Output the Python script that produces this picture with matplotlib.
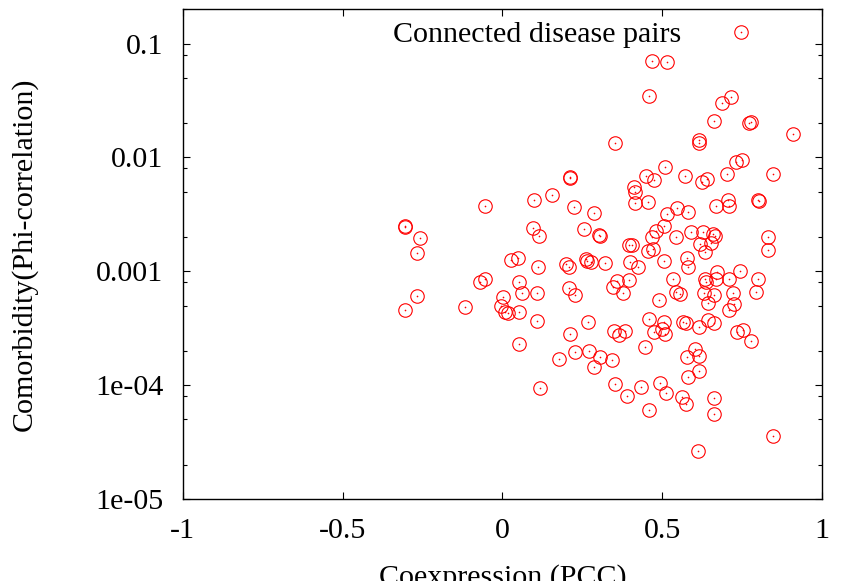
import numpy as np
import matplotlib
matplotlib.use('Agg')
import matplotlib.pyplot as plt
from matplotlib.ticker import LogLocator, FixedLocator, NullFormatter
from matplotlib.legend_handler import HandlerTuple

plt.rcParams['font.family'] = ['Liberation Serif', 'DejaVu Serif']
plt.rcParams['font.size'] = 21.6

# coexpression (PCC) of each connected disease pair
pcc = [0.467, 0.515, 0.460, 0.352, 0.509, 0.716, 0.688, 0.663, 0.772, 0.778, 0.909, 0.615, 0.615, 0.730, 0.751,
       -0.054, 0.100, -0.306, -0.303, -0.259, -0.268, 0.095, 0.115, 0.027, 0.050, 0.112, -0.070, -0.054, 0.052,
       0.062, 0.107, -0.268, 0.001, -0.305, -0.117, -0.004, 0.008, 0.019, 0.052, 0.108, 0.053, 0.118,
       0.211, 0.212, 0.449, 0.474, 0.156, 0.413, 0.415, 0.415, 0.457, 0.224, 0.287, 0.256, 0.302, 0.304, 0.507,
       0.481, 0.469, 0.396, 0.405, 0.455, 0.472, 0.261, 0.266, 0.277, 0.198, 0.209, 0.321, 0.399, 0.425, 0.506,
       0.358, 0.347, 0.396, 0.378, 0.209, 0.227, 0.490,
       0.571, 0.626, 0.641, 0.704, 0.848, 0.800, 0.802, 0.668, 0.707, 0.709, 0.514, 0.547, 0.582, 0.542, 0.590,
       0.629, 0.660, 0.665, 0.618, 0.653, 0.634, 0.830, 0.832, 0.577, 0.582, 0.535, 0.671, 0.743, 0.634, 0.637,
       0.667, 0.709, 0.801, 0.542, 0.556, 0.632, 0.663, 0.723, 0.793, 0.726, 0.642, 0.709,
       0.269, 0.459, 0.507, 0.212, 0.349, 0.365, 0.384, 0.474, 0.499, 0.509, 0.446, 0.177, 0.227, 0.272, 0.305,
       0.342, 0.287, 0.352, 0.389, 0.434, 0.494, 0.512, 0.459,
       0.566, 0.574, 0.615, 0.644, 0.662, 0.733, 0.752, 0.778, 0.603, 0.577, 0.615, 0.615, 0.582, 0.561, 0.574,
       0.662, 0.662, 0.848, 0.613]

# comorbidity (phi-correlation)
phi = [0.070, 0.0686, 0.0345, 0.0134, 0.00822, 0.0340, 0.0299, 0.0211, 0.0200, 0.0204, 0.0160, 0.0142, 0.0133,
       0.00914, 0.00946,
       0.00374, 0.00420, 0.00249, 0.00245, 0.00195, 0.00144, 0.00238, 0.00206, 0.00126, 0.00131, 0.00110, 8.02e-4,
       8.55e-4, 8.06e-4, 6.46e-4, 6.41e-4, 6.07e-4, 5.92e-4, 4.55e-4, 4.86e-4, 4.93e-4, 4.40e-4, 4.29e-4, 4.37e-4,
       3.66e-4, 2.30e-4, 9.42e-5,
       0.00680, 0.00665, 0.00685, 0.00632, 0.00470, 0.00552, 0.00493, 0.00400, 0.00406, 0.00366, 0.00327, 0.00237,
       0.00210, 0.00206, 0.00249, 0.00226, 0.00199, 0.00169, 0.00170, 0.00152, 0.00157, 0.00128, 0.00123, 0.00121,
       0.00115, 0.00110, 0.00118, 0.00121, 0.00110, 0.00123, 8.22e-4, 7.33e-4, 8.39e-4, 6.41e-4, 7.10e-4, 6.19e-4,
       5.60e-4,
       0.00690, 0.00604, 0.00646, 0.00714, 0.00714, 0.00420, 0.00412, 0.00376, 0.00422, 0.00374, 0.00316, 0.00357,
       0.00330, 0.00201, 0.00222, 0.00222, 0.00211, 0.00204, 0.00173, 0.00176, 0.00149, 0.00201, 0.00153, 0.00132,
       0.00110, 8.55e-4, 9.9e-4, 1.007e-3, 8.55e-4, 8.11e-4, 8.55e-4, 8.55e-4, 8.55e-4, 6.55e-4, 6.32e-4, 6.41e-4,
       6.19e-4, 6.49e-4, 6.55e-4, 5.16e-4, 5.31e-4, 4.58e-4,
       3.57e-4, 3.82e-4, 3.57e-4, 2.82e-4, 3.01e-4, 2.76e-4, 3.01e-4, 2.92e-4, 3.12e-4, 2.82e-4, 2.15e-4, 1.70e-4,
       1.95e-4, 2.01e-4, 1.78e-4, 1.67e-4, 1.44e-4, 1.02e-4, 8.05e-5, 9.72e-5, 1.04e-4, 8.51e-5, 6.11e-5,
       3.61e-4, 3.50e-4, 3.27e-4, 3.74e-4, 3.50e-4, 2.92e-4, 3.05e-4, 2.46e-4, 2.07e-4, 1.76e-4, 1.81e-4, 1.33e-4,
       1.17e-4, 7.94e-5, 6.81e-5, 7.69e-5, 5.60e-5, 3.61e-5, 2.65e-5]

xticks = [-1, -0.5, 0, 0.5, 1]
xticklabels = ['-1', '-0.5', '0', '0.5', '1']
yticks = [1e-5, 1e-4, 1e-3, 1e-2, 1e-1]
yticklabels = ['1e-05', '1e-04', '0.001', '0.01', '0.1']

fig = plt.figure(figsize=(8.52, 5.81), dpi=100)
ax = fig.add_axes([0.2144, 0.141, 0.7504, 0.843])

circles, = ax.plot(pcc, phi, linestyle='none', marker='o', markersize=9.7,
                   markerfacecolor='none', markeredgecolor='red', markeredgewidth=0.8)
dots, = ax.plot(pcc, phi, linestyle='none', marker='o', markersize=1.2,
                markerfacecolor='red', markeredgecolor='none')

ax.set_yscale('log')
ax.set_xlim(-1, 1)
ax.set_ylim(1e-5, 0.2)

ax.xaxis.set_major_locator(FixedLocator(xticks))
ax.set_xticklabels(xticklabels)
ax.yaxis.set_major_locator(FixedLocator(yticks))
ax.set_yticklabels(yticklabels)
ax.yaxis.set_minor_locator(LogLocator(base=10, subs=(2.0, 5.0, 8.0)))
ax.yaxis.set_minor_formatter(NullFormatter())

ax.tick_params(axis='both', which='major', direction='in', length=5, width=0.8,
               top=True, right=True)
ax.tick_params(axis='y', which='minor', direction='in', length=3, width=0.8,
               left=True, right=True)
ax.tick_params(axis='x', pad=13.5)
ax.tick_params(axis='y', pad=14)
for s in ax.spines.values():
    s.set_linewidth(1.0)

ax.set_xlabel('Coexpression (PCC)')
ax.xaxis.set_label_coords(0.5, -0.133)
ax.set_ylabel('Comorbidity(Phi-correlation)')
ax.yaxis.set_label_coords(-0.226, 0.5)

ax.legend([(circles, dots)], ['Connected disease pairs'],
          handler_map={tuple: HandlerTuple(ndivide=1)},
          loc='upper right', bbox_to_anchor=(0.92, 0.976), markerfirst=False,
          frameon=False, handlelength=2.0, handletextpad=1.0,
          borderpad=0, borderaxespad=0)

fig.savefig('out.png', dpi=100)
